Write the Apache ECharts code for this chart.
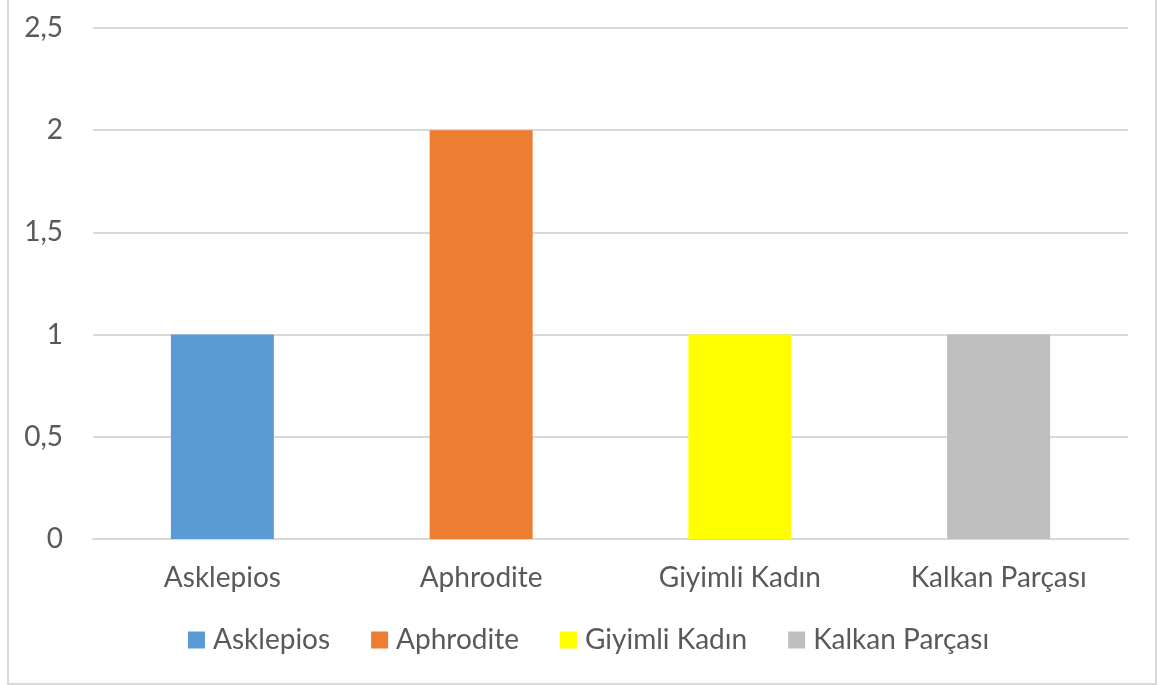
<!DOCTYPE html>
<html>
<head>
<meta charset="utf-8">
<script src="https://cdn.jsdelivr.net/npm/echarts@6/dist/echarts.min.js"></script>
<style>
  html, body { margin: 0; padding: 0; background: #fff; }
  #frame { position: absolute; left: 7px; top: -2px; width: 1146px; height: 683px;
           border: 2px solid #d9d9d9; }
  #main { position: absolute; left: 0; top: 0; width: 1158px; height: 685px; }
</style>
</head>
<body>
<div id="frame"></div>
<div id="main"></div>
<script>
var mychart = echarts.init(document.getElementById('main'));

// categories and values
var categories = ['Asklepios', 'Aphrodite', 'Giyimli Kadın', 'Kalkan Parçası'];
var values = [1, 2, 1, 1];
var colors = ['#5b9bd5', '#ed7d31', '#ffff00', '#bfbfbf'];
var yTicks = [0, 0.5, 1, 1.5, 2, 2.5];

var font = 'Lato, "Open Sans", sans-serif';

// one series per category so every bar gets its own legend entry
var series = [];
for (let i = 0; i < categories.length; i++) {
    let data = new Array(categories.length).fill('-');
    data[i] = values[i];
    series.push({
        name: categories[i],
        type: 'bar',
        stack: 'all',
        barWidth: 103,
        itemStyle: { color: colors[i] },
        data: data
    });
}

var option = {
    animation: false,
    textStyle: { fontFamily: font },
    legend: {
        top: 621,
        left: 183,
        itemWidth: 17,
        itemHeight: 17,
        itemGap: 41,
        icon: 'rect',
        textStyle: { fontFamily: font, fontSize: 28, color: '#595959', padding: [0, 0, 0, 3] },
        data: categories
    },
    grid: {
        left: 93,
        right: 30,
        top: 28,
        bottom: 146
    },
    xAxis: {
        type: 'category',
        data: categories,
        axisLine: { lineStyle: { color: '#d9d9d9', width: 2 } },
        axisTick: { show: false },
        axisLabel: { fontFamily: font, fontSize: 28, color: '#595959', margin: 25 }
    },
    yAxis: {
        type: 'value',
        min: yTicks[0],
        max: yTicks[yTicks.length - 1],
        interval: 0.5,
        axisLine: { show: false },
        axisTick: { show: false },
        splitLine: { lineStyle: { color: '#d9d9d9', width: 2 } },
        axisLabel: {
            fontFamily: font, fontSize: 28, color: '#595959', margin: 30,
            formatter: function (v) { return String(v).replace('.', ','); }
        }
    },
    series: series
};

mychart.setOption(option);
</script>
</body>
</html>
